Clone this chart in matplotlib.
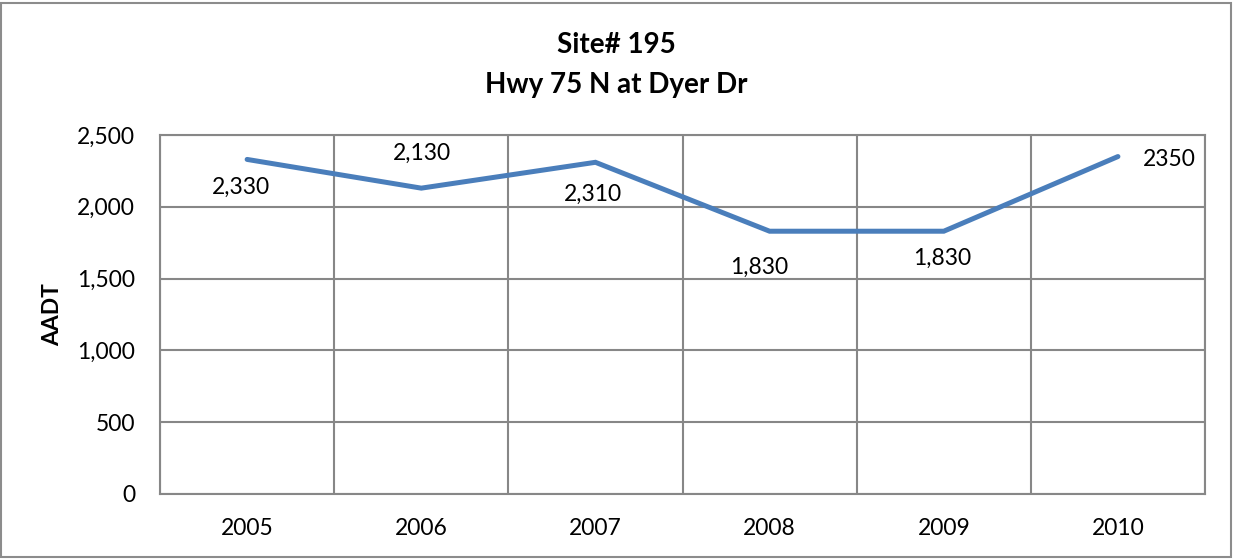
import matplotlib
matplotlib.use('Agg')
import matplotlib.pyplot as plt
from matplotlib.patches import Rectangle
from matplotlib.ticker import FuncFormatter, MultipleLocator

years = ['2005', '2006', '2007', '2008', '2009', '2010']
aadt = [2330, 2130, 2310, 1830, 1830, 2350]
point_labels = ['2,330', '2,130', '2,310', '1,830', '1,830', '2350']
# label offsets from each point, in pixels
label_offsets = [(-6, -28), (1, 35), (-3, -32), (-10, -36), (-2, -27), (51, -3)]

plt.rcParams['font.family'] = ['Lato', 'DejaVu Sans']

fig = plt.figure(figsize=(12.33, 5.6), dpi=100)
ax = fig.add_axes([0.1298, 0.1179, 0.8475, 0.641])

grid_color = '#878787'
x = list(range(len(years)))
ax.plot(x, aadt, color='#4A7EBB', linewidth=3.6, solid_capstyle='round',
        solid_joinstyle='miter', zorder=3)

for xi, yi, lab, off in zip(x, aadt, point_labels, label_offsets):
    ax.annotate(lab, (xi, yi), xytext=off, textcoords='offset pixels',
                ha='center', va='center', fontsize=16.5, color='black')

ax.set_xlim(-0.5, len(years) - 0.5)
ax.set_ylim(0, 2500)
ax.set_xticks(x)
ax.set_xticklabels(years)
ax.set_xticks([i - 0.5 for i in range(len(years) + 1)], minor=True)
ax.yaxis.set_major_locator(MultipleLocator(500))
ax.yaxis.set_major_formatter(FuncFormatter(lambda v, p: f'{int(v):,}'))

ax.grid(True, which='minor', axis='x', color=grid_color, linewidth=1.5)
ax.grid(True, which='major', axis='y', color=grid_color, linewidth=1.5)
ax.tick_params(which='both', length=0, labelsize=16.5)
ax.tick_params(axis='x', pad=17)
ax.tick_params(axis='y', pad=18)
for s in ax.spines.values():
    s.set_color(grid_color)
    s.set_linewidth(1.5)

ax.set_ylabel('AADT', fontsize=16.5, fontweight='bold', labelpad=10)

fig.text(0.5, 0.92, 'Site# 195', ha='center', va='center',
         fontsize=20, fontweight='bold')
fig.text(0.5, 0.848, 'Hwy 75 N at Dyer Dr', ha='center', va='center',
         fontsize=20, fontweight='bold')

# chart frame
fig.patches.append(Rectangle((0.001, 0.005), 0.997, 0.99, transform=fig.transFigure,
                             fill=False, edgecolor='#8C8C8C', linewidth=1.5))

fig.savefig('out.png', dpi=100)
